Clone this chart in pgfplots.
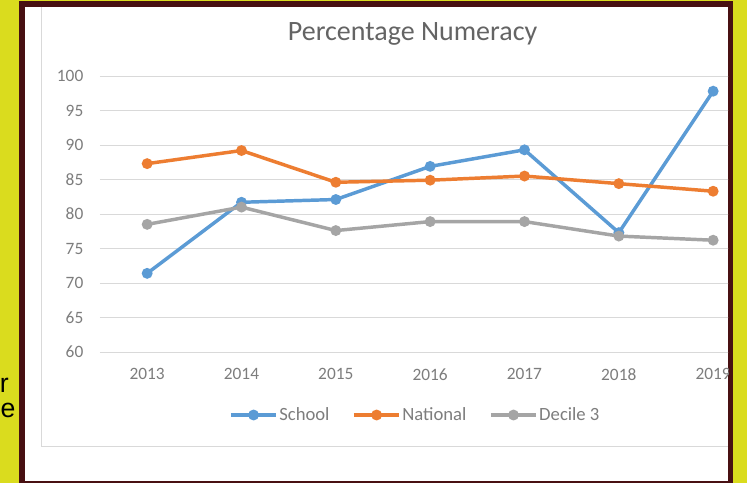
\documentclass[border=0pt]{standalone}
\usepackage{pgfplots}
\pgfplotsset{compat=1.18}
\usepackage{fontspec}
\setmainfont{Carlito}
\newfontfamily\arialfont{Liberation Sans}
\definecolor{bgyellow}{RGB}{218,220,30}
\definecolor{framec}{RGB}{72,16,18}
\definecolor{sblue}{RGB}{91,155,213}
\definecolor{sorange}{RGB}{237,125,49}
\definecolor{sgray}{RGB}{165,165,165}
\definecolor{gridc}{RGB}{217,217,217}
\definecolor{txt}{RGB}{125,125,125}
\definecolor{titlec}{RGB}{100,100,100}
\begin{document}
\begin{tikzpicture}
\useasboundingbox (0,0) rectangle (560.25pt,362.25pt);
\fill[bgyellow] (0,0) rectangle (560.25pt,362.25pt);
\fill[framec] (14.25pt,0) rectangle (549.75pt,361.5pt);
\fill[white] (18.75pt,1.5pt) rectangle (546pt,357pt);
\draw[gridc, line width=0.75pt] (30.75pt,357pt) -- (30.75pt,27.75pt) -- (546pt,27.75pt);
\node[anchor=base east, font=\arialfont\fontsize{20}{23}\selectfont, inner sep=0] at (6.8pt,68.25pt) {r};
\node[anchor=base west, font=\arialfont\fontsize{20}{23}\selectfont, inner sep=0] at (0.3pt,49.5pt) {e};
\node[anchor=base, font=\fontsize{21}{24}\selectfont, text=titlec, inner sep=0] at (309.4pt,331.5pt) {Percentage Numeracy};
\begin{scope}
\clip (18.75pt,1.5pt) rectangle (546pt,357pt);
\begin{axis}[
  at={(75pt,98.25pt)}, anchor=south west,
  scale only axis, width=495.25pt, height=207pt,
  xmin=2012.5, xmax=2019.5, ymin=60, ymax=100,
  ytick={60,65,...,100}, xtick={2013,...,2019},
  ymajorgrids, grid style={gridc, line width=0.75pt},
  axis line style={draw=none}, major tick length=0pt,
  tick label style={font=\fontsize{13}{15}\selectfont, text=txt},
  /pgf/number format/assume math mode=true,
  x tick label style={/pgf/number format/1000 sep={}, yshift=-9pt},
  y tick label style={xshift=-9pt},
  clip=false,
  legend columns=3,
  legend style={at={(axis description cs:0.477,-0.2283)}, anchor=center, draw=none, fill=none,
    font=\fontsize{14}{16}\selectfont, text=txt,
    /tikz/every odd column/.append style={column sep=0pt},
    /tikz/every even column/.append style={column sep=16pt},
    nodes={inner sep=1pt}},
  legend image code/.code={\draw[mark repeat=2, mark phase=2, #1] plot coordinates {(0pt,0pt) (17pt,0pt) (34pt,0pt)};},
  every axis plot/.append style={line width=2.6pt, mark=*, mark size=2.7pt},
]
\addplot[sblue, mark options={fill=sblue}] coordinates {(2013,71.4) (2014,81.7) (2015,82.1) (2016,86.9) (2017,89.3) (2018,77.3) (2019,97.8)};
\addlegendentry{School}
\addplot[sorange, mark options={fill=sorange}] coordinates {(2013,87.3) (2014,89.2) (2015,84.6) (2016,84.9) (2017,85.5) (2018,84.4) (2019,83.3)};
\addlegendentry{National}
\addplot[sgray, mark options={fill=sgray}] coordinates {(2013,78.5) (2014,81.0) (2015,77.6) (2016,78.9) (2017,78.9) (2018,76.8) (2019,76.2)};
\addlegendentry{Decile 3}
\end{axis}
\end{scope}
\end{tikzpicture}
\end{document}
